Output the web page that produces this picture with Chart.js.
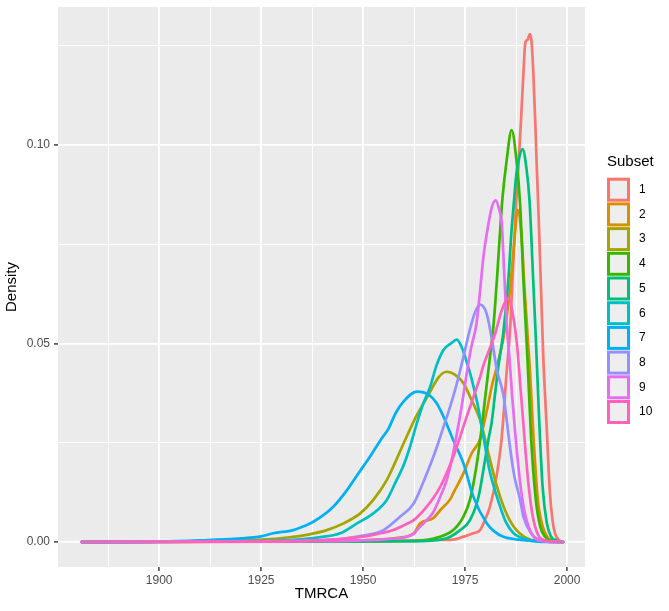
<!DOCTYPE html>
<html><head><meta charset="utf-8">
<script src="https://cdn.jsdelivr.net/npm/chart.js@4.4.1/dist/chart.umd.min.js"></script>
<style>html,body{margin:0;padding:0;background:#fff;}canvas{display:block;}</style>
</head><body>
<canvas id="c" width="669" height="611"></canvas>
<script>
const subsets = ['1','2','3','4','5','6','7','8','9','10'];
const colors = ['#F8766D','#D89000','#A3A500','#39B600','#00BF7D','#00BFC4','#00B0F6','#9590FF','#E76BF3','#FF62BC'];

const tmrca1 = [1881,1950,1967,1972,1974.5,1977,1978.7,1979.5,1981.1,1982.7,1984,1985.2,1986,1986.8,1987.5,1988.1,1988.7,1989.3,1989.8,1990.3,1990.9,1991.3,1991.7,1992.2,1992.6,1993,1993.8,1994.2,1995,1995.8,1996.5,1997.1,1998,1999];
const density1 = [0,0.0001,0.0005,0.0006,0.0013,0.0022,0.003,0.0047,0.0089,0.0165,0.0265,0.043,0.053,0.070,0.085,0.095,0.106,0.118,0.126,0.1265,0.128,0.126,0.119,0.106,0.094,0.083,0.058,0.046,0.029,0.0123,0.005,0.002,0.0005,0];

const tmrca2 = [1881,1945,1951,1958,1962.4,1964,1967.2,1968.9,1971.5,1972.1,1974.6,1976.6,1978.7,1980.3,1981.5,1983,1984.5,1986,1987.1,1987.9,1988.9,1989.6,1990.4,1990.9,1991.8,1992.8,1994,1995.2,1996.6,1999];
const density2 = [0,0.0002,0.0005,0.001,0.0022,0.0047,0.006,0.008,0.011,0.0123,0.0173,0.0223,0.026,0.033,0.039,0.045,0.052,0.0635,0.076,0.0836,0.076,0.0635,0.051,0.0433,0.026,0.011,0.004,0.0012,0.0003,0];

const tmrca3 = [1881,1910,1925,1932,1936.2,1941.1,1945.2,1949.3,1952.5,1955.8,1957.4,1960,1963.2,1966,1968.5,1970.5,1972.5,1974.6,1976.5,1978.7,1980.8,1982.8,1984.8,1986.9,1990,1993,1999];
const density3 = [0,0.0002,0.0006,0.0012,0.0018,0.003,0.0047,0.0072,0.0106,0.0156,0.019,0.025,0.032,0.037,0.0415,0.0429,0.0422,0.040,0.036,0.0307,0.022,0.014,0.008,0.0039,0.001,0.0002,0];

const tmrca4 = [1881,1960,1967,1972.1,1974.6,1976.2,1977.5,1978.7,1980,1980.8,1982,1982.8,1983.6,1984.2,1985.2,1986.4,1987.6,1988.5,1989.3,1990.3,1991.2,1992.3,1993.4,1994.6,1996,1999];
const density4 = [0,0.0002,0.0008,0.003,0.0064,0.0106,0.0173,0.0257,0.037,0.044,0.055,0.066,0.0786,0.087,0.0962,0.1038,0.0962,0.085,0.066,0.046,0.026,0.011,0.004,0.0013,0.0003,0];

const tmrca5 = [1881,1962,1970,1973.8,1976.2,1978.3,1979.9,1980.7,1981.5,1982.2,1983.2,1984.4,1985.6,1986.4,1987,1987.6,1988.3,1989.1,1990.1,1990.8,1991.7,1992.4,1993.2,1994,1995,1996,1997.4,1999];
const density5 = [0,0.0002,0.0008,0.003,0.0055,0.0114,0.0207,0.0257,0.030,0.036,0.0445,0.053,0.066,0.0786,0.086,0.093,0.097,0.099,0.0937,0.086,0.066,0.050,0.030,0.014,0.005,0.0015,0.0004,0];

const tmrca6 = [1881,1910,1930,1940,1944.4,1948.5,1952.5,1955.8,1958.2,1959.8,1961.5,1963.2,1964.8,1966.4,1968,1969.7,1971.5,1973,1974.2,1975.5,1976.5,1978,1979.5,1981,1983.6,1985,1986.9,1989.9,1993,1999];
const density6 = [0,0.0001,0.0004,0.0013,0.0022,0.0047,0.0072,0.0106,0.0156,0.019,0.024,0.030,0.035,0.039,0.0445,0.0484,0.050,0.051,0.049,0.045,0.0415,0.035,0.0265,0.018,0.0089,0.005,0.0022,0.0007,0.0001,0];

const tmrca7 = [1881,1900,1910,1920,1925,1928,1932.9,1935.5,1937.8,1942.7,1946,1949,1952,1954.5,1956.2,1958,1960,1963.2,1966,1968,1969.7,1972.1,1974.6,1977,1980.3,1982,1984.4,1988,1991.7,1995,1999];
const density7 = [0,0.0001,0.0004,0.0009,0.0014,0.0022,0.003,0.004,0.0051,0.0089,0.013,0.0175,0.022,0.026,0.0285,0.0325,0.0355,0.0379,0.0372,0.035,0.0316,0.0257,0.0198,0.0115,0.0047,0.0028,0.0013,0.0006,0.0003,0.0001,0];

const tmrca8 = [1881,1930,1945,1950,1955,1959.1,1962.4,1964.8,1966.5,1968.1,1969.7,1971.3,1973,1974.6,1976.3,1977.5,1978.7,1980.3,1981.6,1982.8,1984.4,1986,1987,1988.5,1989.3,1991.3,1993,1995,1999];
const density8 = [0,0.0002,0.0008,0.0016,0.003,0.0064,0.0097,0.0152,0.0195,0.024,0.029,0.034,0.040,0.0467,0.054,0.058,0.0598,0.0575,0.0509,0.0433,0.037,0.024,0.017,0.0106,0.0064,0.002,0.0006,0.0001,0];

const tmrca9 = [1881,1940,1956.6,1962.4,1963.2,1965.6,1967.2,1968.9,1970.5,1972,1973,1974.3,1975.4,1976.5,1977.8,1978.7,1979.5,1980.7,1981.6,1982.5,1983.3,1984,1984.6,1985.2,1985.9,1986.6,1987.5,1988.5,1989.5,1990.9,1993,1999];
const density9 = [0,0.0002,0.0008,0.002,0.003,0.0055,0.0075,0.0114,0.0156,0.022,0.0274,0.035,0.0425,0.049,0.055,0.0635,0.0719,0.080,0.0845,0.0861,0.084,0.080,0.0677,0.055,0.046,0.036,0.025,0.015,0.008,0.003,0.0004,0];

const tmrca10 = [1881,1935,1945,1952.5,1957.4,1960,1962.4,1965.6,1968.9,1972.1,1975.4,1978.7,1979.5,1980.7,1982.4,1984,1985.6,1986.8,1987.7,1988.5,1989.5,1990.5,1991.5,1992.8,1994.5,1999];
const density10 = [0,0.0003,0.0008,0.0018,0.003,0.0042,0.0055,0.0089,0.0139,0.0215,0.0316,0.0416,0.0445,0.0478,0.0526,0.0584,0.0614,0.0568,0.050,0.040,0.027,0.015,0.007,0.002,0.0004,0];

const xMajorTicks = [1900,1925,1950,1975,2000];
const xMinorTicks = [1887.5,1912.5,1937.5,1962.5,1987.5];
const yMajorTicks = [0,0.05,0.10];
const yMinorTicks = [0.025,0.075,0.125];
const yTickLabels = ['0.00','0.05','0.10'];

const xs = [tmrca1,tmrca2,tmrca3,tmrca4,tmrca5,tmrca6,tmrca7,tmrca8,tmrca9,tmrca10];
const ys = [density1,density2,density3,density4,density5,density6,density7,density8,density9,density10];

const FONT = '"Liberation Sans", Arial, Helvetica, sans-serif';
const isMaj = (v, arr) => arr.some(m => Math.abs(m - v) < 1e-9);

const datasets = subsets.map((s, i) => ({
  label: s,
  data: xs[i].map((x, j) => ({x: x, y: ys[i][j]})),
  borderColor: colors[i],
  backgroundColor: colors[i],
  borderWidth: 2.7,
  pointRadius: 0,
  fill: false,
  cubicInterpolationMode: 'monotone',
  borderJoinStyle: 'round',
  borderCapStyle: 'round',
  order: 11 - i
}));

const panelBg = {
  id: 'panelBg',
  beforeDraw(chart) {
    const {ctx, chartArea: a} = chart;
    ctx.save();
    ctx.fillStyle = '#FFFFFF';
    ctx.fillRect(0, 0, chart.width, chart.height);
    ctx.fillStyle = '#EBEBEB';
    ctx.fillRect(a.left, a.top, a.right - a.left, a.bottom - a.top);
    ctx.restore();
  }
};

const ggLegend = {
  id: 'ggLegend',
  afterDraw(chart) {
    const ctx = chart.ctx;
    ctx.save();
    ctx.textBaseline = 'middle';
    ctx.textAlign = 'left';
    ctx.fillStyle = '#000000';
    ctx.font = '15px ' + FONT;
    ctx.fillText('Subset', 607, 162);
    chart.data.datasets.forEach((ds, i) => {
      const cy = 189.7 + i * 24.7;
      ctx.fillStyle = '#EEEEEE';
      ctx.fillRect(608, cy - 10.5, 22, 21);
      ctx.strokeStyle = ds.borderColor;
      ctx.lineWidth = 3;
      ctx.strokeRect(608.5, cy - 10.5, 20, 21);
      ctx.fillStyle = '#000000';
      ctx.font = '12px ' + FONT;
      ctx.fillText(ds.label, 639, cy);
    });
    ctx.restore();
  }
};

new Chart(document.getElementById('c'), {
  type: 'line',
  data: { datasets: datasets },
  plugins: [panelBg, ggLegend],
  options: {
    responsive: false,
    animation: false,
    events: [],
    layout: { padding: { top: 7, right: 84, bottom: 0, left: 0 } },
    plugins: { legend: { display: false }, tooltip: { enabled: false } },
    scales: {
      x: {
        type: 'linear',
        min: 1875.2,
        max: 2004.4,
        afterBuildTicks: s => { s.ticks = xMinorTicks.concat(xMajorTicks).sort((a,b)=>a-b).map(v => ({value: v})); },
        afterFit: s => { s.height = 44; s.paddingLeft = 0; s.paddingRight = 0; },
        border: { display: false },
        grid: {
          color: '#FFFFFF',
          lineWidth: c => (c.tick && isMaj(c.tick.value, xMajorTicks)) ? 1.8 : 0.9,
          tickColor: c => (c.tick && isMaj(c.tick.value, xMajorTicks)) ? '#333333' : 'rgba(0,0,0,0)',
          tickWidth: 1.4,
          tickLength: 4,
          drawOnChartArea: true
        },
        ticks: {
          autoSkip: false, maxRotation: 0, color: '#4D4D4D', padding: 2,
          font: { family: FONT, size: 12 },
          callback: v => isMaj(v, xMajorTicks) ? String(v) : ''
        },
        title: { display: true, text: 'TMRCA', color: '#000000', font: { family: FONT, size: 15 }, padding: { top: 0, bottom: 8 } }
      },
      y: {
        type: 'linear',
        min: -0.0063,
        max: 0.1348,
        afterBuildTicks: s => { s.ticks = yMinorTicks.concat(yMajorTicks).sort((a,b)=>a-b).map(v => ({value: v})); },
        afterFit: s => { s.width = 58; s.paddingTop = 0; s.paddingBottom = 0; },
        border: { display: false },
        grid: {
          color: '#FFFFFF',
          lineWidth: c => (c.tick && isMaj(c.tick.value, yMajorTicks)) ? 1.8 : 0.9,
          tickColor: c => (c.tick && isMaj(c.tick.value, yMajorTicks)) ? '#333333' : 'rgba(0,0,0,0)',
          tickWidth: 1.4,
          tickLength: 4,
          drawOnChartArea: true
        },
        ticks: {
          autoSkip: false, color: '#4D4D4D', padding: 4,
          font: { family: FONT, size: 12 },
          callback: v => { const k = yMajorTicks.findIndex(m => Math.abs(m - v) < 1e-9); return k >= 0 ? yTickLabels[k] : ''; }
        },
        title: { display: true, text: 'Density', color: '#000000', font: { family: FONT, size: 15 }, padding: { top: 3, bottom: 0 } }
      }
    }
  }
});
</script>
</body></html>
